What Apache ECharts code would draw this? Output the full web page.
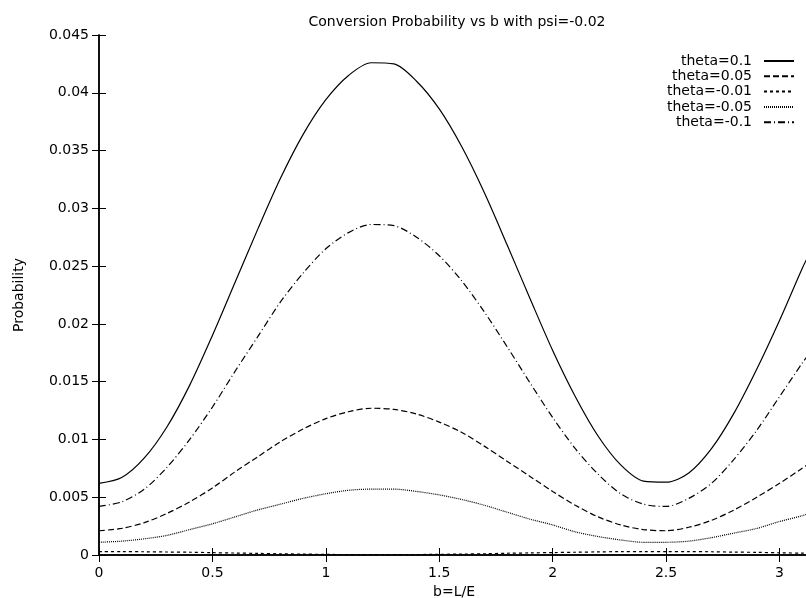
<!DOCTYPE html>
<html>
<head>
<meta charset="utf-8">
<title>Conversion Probability vs b</title>
<script src="https://cdn.jsdelivr.net/npm/echarts@6/dist/echarts.min.js"></script>
<style>
  html, body { margin: 0; padding: 0; background: #fff; }
  #chart { width: 806px; height: 598px; }
</style>
</head>
<body>
<div id="chart"></div>
<script>
// b = L/E sample points
const bValues = [0, 0.1, 0.2, 0.3, 0.4, 0.5, 0.6, 0.7, 0.8, 0.9, 1.0, 1.1, 1.2, 1.3, 1.4, 1.5,
  1.6, 1.7, 1.8, 1.9, 2.0, 2.1, 2.2, 2.3, 2.4, 2.5, 2.6, 2.7, 2.8, 2.9, 3.0, 3.1, 3.13];

// values
const theta010 = [0.0062, 0.0067, 0.0084, 0.0111, 0.0147, 0.0190, 0.0236, 0.0282, 0.0326, 0.0364,
  0.0394, 0.0415, 0.0426, 0.0425, 0.0410, 0.0386, 0.0353, 0.0313, 0.0268, 0.0222, 0.0177, 0.0137,
  0.0103, 0.0078, 0.0064, 0.0063, 0.0071, 0.0092, 0.0123, 0.0161, 0.0203, 0.0248, 0.0260];
const theta005 = [0.0021, 0.0023, 0.0028, 0.0036, 0.0046, 0.0058, 0.0072, 0.0085, 0.0098, 0.0109,
  0.0118, 0.0124, 0.0127, 0.0126, 0.0122, 0.0115, 0.0106, 0.0094, 0.0081, 0.0068, 0.0055, 0.0043,
  0.0033, 0.0026, 0.0022, 0.0021, 0.0024, 0.0030, 0.0039, 0.0050, 0.0062, 0.0075, 0.0079];
const thetaM001 = [0.00030, 0.00030, 0.00028, 0.00026, 0.00024, 0.00020, 0.00017, 0.00014, 0.00010,
  0.00008, 0.00005, 0.00004, 0.00003, 0.00003, 0.00004, 0.00006, 0.00008, 0.00011, 0.00015, 0.00018,
  0.00021, 0.00024, 0.00027, 0.00029, 0.00030, 0.00030, 0.00029, 0.00028, 0.00025, 0.00023, 0.00019,
  0.00016, 0.00015];
const thetaM005 = [0.0011, 0.0012, 0.0014, 0.0017, 0.0022, 0.0027, 0.0033, 0.0039, 0.0044, 0.0049,
  0.0053, 0.0056, 0.0057, 0.0057, 0.0055, 0.0052, 0.0048, 0.0043, 0.0037, 0.0031, 0.0026, 0.0020,
  0.0016, 0.0013, 0.0011, 0.0011, 0.0012, 0.0015, 0.0019, 0.0023, 0.0029, 0.0034, 0.0036];
const thetaM010 = [0.0042, 0.0046, 0.0057, 0.0076, 0.0100, 0.0128, 0.0159, 0.0189, 0.0219, 0.0244,
  0.0265, 0.0279, 0.0286, 0.0285, 0.0275, 0.0259, 0.0237, 0.0210, 0.0180, 0.0149, 0.0119, 0.0092,
  0.0070, 0.0053, 0.0044, 0.0042, 0.0049, 0.0062, 0.0083, 0.0108, 0.0137, 0.0166, 0.0174];

const seriesNames = ['theta=0.1', 'theta=0.05', 'theta=-0.01', 'theta=-0.05', 'theta=-0.1'];
const seriesValues = [theta010, theta005, thetaM001, thetaM005, thetaM010];
const dashTypes = ['solid', [6, 3], [3, 3], [1, 1], [7, 3, 1, 3]];

const FONT = 'DejaVu Sans, Liberation Sans, Arial, sans-serif';

function pairs(values) {
  return bValues.map(function(b, i) { return [b, values[i]]; });
}

const chart = echarts.init(document.getElementById('chart'), null, { renderer: 'canvas' });

const tickStyle = { inside: true, length: 7, lineStyle: { color: '#000', width: 1 } };
const lineStyleAxis = { show: true, lineStyle: { color: '#000', width: 1.5 } };

chart.setOption({
  animation: false,
  backgroundColor: '#fff',
  title: {
    text: 'Conversion Probability vs b with psi=-0.02',
    left: 452,
    textAlign: 'center',
    top: 10,
    textStyle: { fontFamily: FONT, fontSize: 14, fontWeight: 'normal', color: '#000' }
  },
  legend: {
    orient: 'vertical',
    right: 6,
    top: 49,
    align: 'right',
    itemWidth: 30,
    itemHeight: 14,
    itemGap: 1.3,
    itemStyle: { opacity: 0 },
    textStyle: { fontFamily: FONT, fontSize: 14, color: '#000', width: 90, align: 'right', padding: [0, 7, 0, 0] },
    data: seriesNames
  },
  grid: { left: 99, right: -3, top: 35, bottom: 43, containLabel: false, outerBoundsMode: 'none' },
  xAxis: [{
    type: 'value',
    min: 0,
    max: 3.13,
    interval: 0.5,
    name: 'b=L/E',
    nameLocation: 'middle',
    nameGap: 30,
    nameTextStyle: { fontFamily: FONT, fontSize: 14, color: '#000' },
    axisLine: lineStyleAxis,
    axisTick: tickStyle,
    splitLine: { show: false },
    axisLabel: {
      fontFamily: FONT, fontSize: 14, color: '#000', margin: 11,
      formatter: function(v) {
        return Math.abs(v * 2 - Math.round(v * 2)) < 1e-6 ? String(v) : '';
      }
    }
  }, {
    type: 'value',
    position: 'top',
    min: 0,
    max: 3.13,
    interval: 0.5,
    axisLine: lineStyleAxis,
    axisTick: tickStyle,
    axisLabel: { show: false },
    splitLine: { show: false }
  }],
  yAxis: [{
    type: 'value',
    min: 0,
    max: 0.045,
    interval: 0.005,
    name: 'Probability',
    nameLocation: 'middle',
    nameGap: 73,
    nameRotate: 90,
    nameTextStyle: { fontFamily: FONT, fontSize: 14, color: '#000' },
    axisLine: lineStyleAxis,
    axisTick: tickStyle,
    splitLine: { show: false },
    axisLabel: { fontFamily: FONT, fontSize: 14, color: '#000', margin: 10 }
  }, {
    type: 'value',
    position: 'right',
    min: 0,
    max: 0.045,
    interval: 0.005,
    axisLine: lineStyleAxis,
    axisTick: tickStyle,
    axisLabel: { show: false },
    splitLine: { show: false }
  }],
  series: seriesNames.map(function(name, i) {
    return {
      name: name,
      type: 'line',
      xAxisIndex: 0,
      yAxisIndex: 0,
      data: pairs(seriesValues[i]),
      smooth: 0.3,
      symbol: 'none',
      clip: true,
      color: '#000',
      lineStyle: { color: '#000', width: 1.2, type: dashTypes[i] }
    };
  })
});
</script>
</body>
</html>
